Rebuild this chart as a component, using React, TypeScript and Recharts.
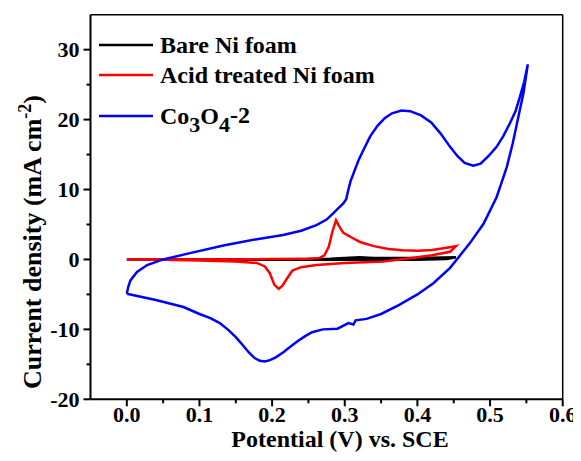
import React from "react";
import { LineChart, Line, XAxis, YAxis, ReferenceLine } from "recharts";

// Bare Ni foam (forward then reverse scan)
const bareV = [0.0, 0.1, 0.2, 0.25, 0.28, 0.3, 0.32, 0.34, 0.4, 0.453, 0.44, 0.4, 0.3, 0.2, 0.1, 0.0];
const bareJ = [0.0, 0.0, 0.02, 0.05, 0.1, 0.2, 0.3, 0.2, 0.2, 0.3, 0.05, -0.05, -0.05, -0.05, -0.02, 0.0];

// Acid treated Ni foam
const acidV = [
  0.0, 0.1, 0.2, 0.25, 0.265, 0.272, 0.278, 0.283, 0.288, 0.292, 0.298, 0.31, 0.321, 0.34, 0.36, 0.38, 0.4, 0.42, 0.436, 0.453,
  0.445, 0.42, 0.4, 0.353, 0.3, 0.261, 0.24, 0.228, 0.22, 0.214, 0.209, 0.203, 0.197, 0.19, 0.179, 0.15, 0.1, 0.05, 0.0,
];
const acidJ = [
  0.0, 0.0, 0.05, 0.1, 0.2, 0.6, 1.8, 4.0, 5.6, 4.8, 3.8, 3.1, 2.5, 1.9, 1.5, 1.3, 1.25, 1.35, 1.6, 1.9,
  1.1, 0.6, 0.3, -0.3, -0.5, -0.8, -1.1, -1.6, -2.8, -3.8, -4.2, -3.6, -2.0, -1.0, -0.5, -0.3, -0.15, -0.05, 0.0,
];

// Co3O4-2
const coV = [
  0.0, 0.002, 0.005, 0.014, 0.028, 0.05, 0.087, 0.133, 0.179, 0.215, 0.24, 0.261, 0.275, 0.284, 0.292, 0.298, 0.302, 0.305, 0.308, 0.312, 0.319,
  0.325, 0.335, 0.345, 0.355, 0.365, 0.378, 0.39, 0.405, 0.419, 0.432, 0.445, 0.455, 0.465, 0.477, 0.487, 0.498, 0.509, 0.518, 0.527, 0.535, 0.541, 0.547, 0.552,
  0.546, 0.539, 0.531, 0.523, 0.509, 0.491, 0.472, 0.445, 0.422, 0.4, 0.375, 0.35, 0.33, 0.315, 0.312, 0.305, 0.29, 0.27, 0.255, 0.245, 0.235, 0.225,
  0.215, 0.205, 0.197, 0.19, 0.183, 0.176, 0.168, 0.16, 0.15, 0.14, 0.128, 0.115, 0.1, 0.078, 0.04, 0.0,
];
const coJ = [
  -4.9, -3.9, -3.0, -1.8, -0.8, 0.0, 0.9, 2.0, 2.9, 3.5, 4.1, 4.9, 5.7, 6.6, 7.4, 8.0, 8.6, 10.0, 11.2, 12.3, 14.2,
  15.5, 17.6, 19.1, 20.2, 20.9, 21.3, 21.2, 20.6, 19.6, 18.0, 16.1, 14.8, 13.8, 13.4, 13.7, 14.8, 16.1, 17.6, 19.4, 21.2, 23.2, 25.4, 27.9,
  23.8, 20.4, 16.5, 13.2, 8.9, 5.1, 2.3, -1.2, -3.4, -5.0, -6.5, -7.8, -8.5, -8.7, -9.3, -9.1, -9.9, -10.0, -10.4, -11.0, -11.7, -12.5,
  -13.3, -14.0, -14.4, -14.6, -14.5, -14.1, -13.3, -12.3, -11.1, -10.1, -9.1, -8.4, -7.8, -6.8, -5.8, -4.9,
];

const xTicks = [0, 0.05, 0.1, 0.15, 0.2, 0.25, 0.3, 0.35, 0.4, 0.45, 0.5, 0.55, 0.6];
const yTicks = [-20, -15, -10, -5, 0, 5, 10, 15, 20, 25, 30];

const toRows = (vs: number[], js: number[]) => vs.map((v, i) => ({ v, j: js[i] }));
const bareData = toRows(bareV, bareJ);
const acidData = toRows(acidV, acidJ);
const coData = toRows(coV, coJ);

const FONT = "'Liberation Serif', 'Times New Roman', serif";

const isMajorX = (v: number) => Math.abs(Math.round(v * 10) - v * 10) < 1e-6;
const isMajorY = (v: number) => Math.abs(v % 10) < 1e-6;

const XTick = (props: any) => {
  const { x, y, payload } = props;
  const major = isMajorX(payload.value);
  return (
    <g>
      <line x1={x} x2={x} y1={y} y2={y + (major ? 7 : 4)} stroke="#000" strokeWidth={2} />
      {major && (
        <text x={x} y={y + 23} textAnchor="middle" fontFamily={FONT} fontWeight="bold" fontSize={22} fill="#000">
          {payload.value.toFixed(1)}
        </text>
      )}
    </g>
  );
};

const YTick = (props: any) => {
  const { x, y, payload } = props;
  const major = isMajorY(payload.value);
  return (
    <g>
      <line x1={x - (major ? 7 : 4)} x2={x} y1={y} y2={y} stroke="#000" strokeWidth={2} />
      {major && (
        <text x={x - 11} y={y + 7.5} textAnchor="end" fontFamily={FONT} fontWeight="bold" fontSize={22} fill="#000">
          {String(payload.value)}
        </text>
      )}
    </g>
  );
};

const legendItems = [
  { color: "#000000", y: 37 },
  { color: "#ff0000", y: 67 },
  { color: "#0000ff", y: 108 },
];

export default function App() {
  return (
    <div style={{ position: "relative", width: 573, height: 445 }}>
      <LineChart width={573} height={445} margin={{ top: 6.7, right: 18.3, left: 22.5, bottom: 13.7 }}>
        <XAxis
          dataKey="v"
          type="number"
          domain={[-0.05, 0.6]}
          allowDataOverflow
          ticks={xTicks}
          tick={<XTick />}
          tickSize={0}
          tickMargin={0}
          tickLine={false}
          axisLine={{ stroke: "#000", strokeWidth: 2 }}
          height={40}
          interval={0}
        />
        <YAxis
          type="number"
          domain={[-20, 35]}
          allowDataOverflow
          ticks={yTicks}
          tick={<YTick />}
          tickSize={0}
          tickMargin={0}
          tickLine={false}
          axisLine={{ stroke: "#000", strokeWidth: 2 }}
          width={60}
          interval={0}
        />
        <ReferenceLine y={35} stroke="#000" strokeWidth={1.5} />
        <ReferenceLine x={0.6} stroke="#000" strokeWidth={1.5} />
        <Line data={bareData} dataKey="j" type="linear" stroke="#000000" strokeWidth={2.5} dot={false} isAnimationActive={false} />
        <Line data={acidData} dataKey="j" type="linear" stroke="#ff0000" strokeWidth={2.5} dot={false} isAnimationActive={false} />
        <Line data={coData} dataKey="j" type="linear" stroke="#0000ff" strokeWidth={2.5} dot={false} isAnimationActive={false} />
      </LineChart>
      <svg width={573} height={445} style={{ position: "absolute", left: 0, top: 0, pointerEvents: "none" }}>
        {legendItems.map((it, i) => (
          <line key={i} x1={91} x2={145} y1={it.y} y2={it.y} stroke={it.color} strokeWidth={2.5} />
        ))}
        <text x={152} y={45} fontFamily={FONT} fontWeight="bold" fontSize={24} fill="#000">Bare Ni foam</text>
        <text x={152} y={75} fontFamily={FONT} fontWeight="bold" fontSize={24} fill="#000">Acid treated Ni foam</text>
        <text x={152} y={116} fontFamily={FONT} fontWeight="bold" fontSize={24} fill="#000">
          Co<tspan dy={8} fontSize={22}>3</tspan><tspan dy={-8}>O</tspan><tspan dy={8} fontSize={22}>4</tspan><tspan dy={-9}>-2</tspan>
        </text>
        <text x={332} y={439} textAnchor="middle" fontFamily={FONT} fontWeight="bold" fontSize={24} fill="#000">
          Potential (V) vs. SCE
        </text>
        <text
          transform="translate(33, 234) rotate(-90)"
          textAnchor="middle"
          fontFamily={FONT}
          fontWeight="bold"
          fontSize={26}
          fill="#000"
        >
          Current density (mA cm<tspan dy={-10} fontSize={18}>-2</tspan><tspan dy={10}>)</tspan>
        </text>
      </svg>
    </div>
  );
}
